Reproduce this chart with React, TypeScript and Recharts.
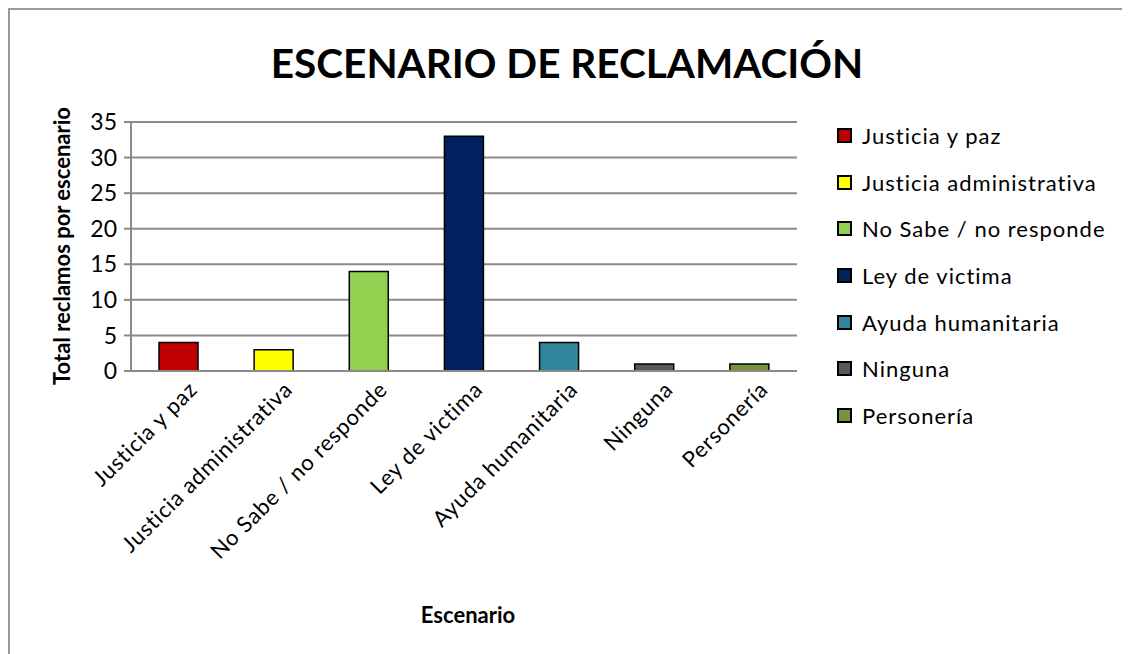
import { BarChart, Bar, XAxis, YAxis, CartesianGrid, Cell } from "recharts";

const categories = [
  "Justicia y paz",
  "Justicia administrativa",
  "No Sabe / no responde",
  "Ley de victima",
  "Ayuda humanitaria",
  "Ninguna",
  "Personería",
];
const reclamos = [4, 3, 14, 33, 4, 1, 1];
const colors = ["#C00000", "#FFFF00", "#92D050", "#002060", "#31859C", "#595959", "#77933C"];
const yTicks = [0, 5, 10, 15, 20, 25, 30, 35];

const data = categories.map((name, i) => ({ name, value: reclamos[i] }));

const FONT = "Lato, 'Open Sans', sans-serif";
const GRID = "#8a8a8a";

function XTick(props: any) {
  const { x, y, payload } = props;
  return (
    <g transform={`translate(${x + 20},${y + 12})`}>
      <text
        x={0}
        y={0}
        textAnchor="end"
        transform="rotate(-45)"
        fontFamily={FONT}
        fontSize={22}
        letterSpacing={0.8}
        fill="#000"
      >
        {payload.value}
      </text>
    </g>
  );
}

function LegendBox() {
  return (
    <div
      style={{
        position: "absolute",
        left: 827,
        top: 102,
        fontFamily: FONT,
        fontSize: 22,
        letterSpacing: 1,
        color: "#000",
      }}
    >
      {categories.map((c, i) => (
        <div key={c} style={{ display: "flex", alignItems: "center", height: 46.7 }}>
          <span
            style={{
              display: "inline-block",
              width: 11,
              height: 11,
              background: colors[i],
              border: "2px solid #000",
              marginRight: 10,
            }}
          />
          <span>{c}</span>
        </div>
      ))}
    </div>
  );
}

export default function App() {
  return (
    <div
      style={{
        position: "relative",
        width: 1122,
        height: 646,
        borderTop: "2px solid #9a9a9a",
        borderLeft: "2px solid #9a9a9a",
        boxSizing: "border-box",
      }}
    >
      <style>{"html,body{overflow:hidden}"}</style>
      <div
        style={{
          position: "absolute",
          left: -8,
          top: 28,
          width: 1130,
          textAlign: "center",
          fontFamily: FONT,
          fontWeight: 700,
          fontSize: 40.5,
          lineHeight: "50px",
          color: "#000",
        }}
      >
        ESCENARIO DE RECLAMACIÓN
      </div>
      <LegendBox />
      <div style={{ position: "absolute", left: -10, top: -10 }}>
        <BarChart
          width={1120}
          height={654}
          data={data}
          margin={{ top: 122, right: 323, left: 71, bottom: 253 }}
        >
          <CartesianGrid vertical={false} stroke={GRID} strokeWidth={2} />
          <XAxis
            dataKey="name"
            height={30}
            axisLine={{ stroke: GRID, strokeWidth: 2 }}
            tickLine={false}
            tick={<XTick />}
            interval={0}
            label={{
              value: "Escenario",
              content: () => (
                <text x={468} y={623} textAnchor="middle" fontFamily={FONT} fontWeight={700} fontSize={22} fill="#000">
                  Escenario
                </text>
              ),
            }}
          />
          <YAxis
            width={60}
            domain={[0, 35]}
            ticks={yTicks}
            interval={0}
            axisLine={{ stroke: GRID, strokeWidth: 2 }}
            tickLine={{ stroke: GRID, strokeWidth: 2 }}
            tickSize={7}
            tickMargin={7}
            tick={{ fontFamily: FONT, fontSize: 23, fill: "#000" }}
            label={{
              value: "Total reclamos por escenario",
              content: () => (
                <text
                  x={0}
                  y={0}
                  transform="translate(70,246) rotate(-90)"
                  textAnchor="middle"
                  fontFamily={FONT}
                  fontWeight={700}
                  fontSize={22}
                  fill="#000"
                >
                  Total reclamos por escenario
                </text>
              ),
            }}
          />
          <Bar dataKey="value" barSize={39} stroke="#000" strokeWidth={1.5} isAnimationActive={false}>
            {data.map((d, i) => (
              <Cell key={d.name} fill={colors[i]} />
            ))}
          </Bar>
        </BarChart>
      </div>
    </div>
  );
}
